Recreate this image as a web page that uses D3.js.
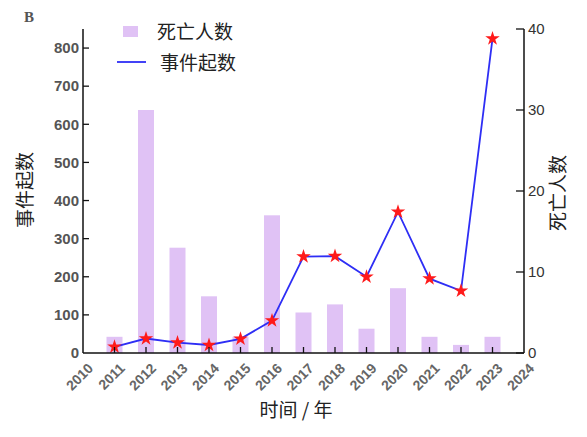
<!DOCTYPE html>
<html>
<head>
<meta charset="utf-8">
<script src="https://cdn.jsdelivr.net/npm/d3@7"></script>
<style>
  html, body { margin: 0; padding: 0; background: #fff; }
  svg { display: block; }
</style>
</head>
<body>
<svg id="chart" width="587" height="437"></svg>
<script>
// Years shown on the x axis and the years that carry data
const tickYears = [2010, 2011, 2012, 2013, 2014, 2015, 2016, 2017, 2018, 2019, 2020, 2021, 2022, 2023, 2024];
const years = [2011, 2012, 2013, 2014, 2015, 2016, 2017, 2018, 2019, 2020, 2021, 2022, 2023];
// Deaths per year (bars, right axis)
const deaths = [2, 30, 13, 7, 2, 17, 5, 6, 3, 8, 2, 1, 2];
// Number of incidents per year (line, left axis)
const events = [16, 38, 27, 21, 37, 85, 253, 254, 200, 370, 195, 163, 825];
// Axis tick values
const leftTicks = [0, 100, 200, 300, 400, 500, 600, 700, 800];
const rightTicks = [0, 10, 20, 30, 40];

const svg = d3.select("#chart");
const x0 = 83, x1 = 524, yBottom = 353, yTop = 29;

const x = d3.scaleLinear().domain([2010, 2024]).range([x0, x1]);
const yLeft = d3.scaleLinear().domain([0, 850]).range([yBottom, yTop]);
const yRight = d3.scaleLinear().domain([0, 40]).range([yBottom, yTop]);

const cjk = "'Noto Sans CJK SC', 'Noto Sans', sans-serif";
const barW = 16;

// Bars: deaths
svg.append("g").selectAll("rect")
  .data(years.map((y, i) => ({ year: y, v: deaths[i] })))
  .join("rect")
  .attr("x", d => x(d.year) - barW / 2)
  .attr("y", d => yRight(d.v))
  .attr("width", barW)
  .attr("height", d => yRight(0) - yRight(d.v))
  .attr("fill", "#e0c2f5");

// Line: incidents
const pts = years.map((y, i) => ({ year: y, v: events[i] }));
svg.append("path")
  .datum(pts)
  .attr("fill", "none")
  .attr("stroke", "#2e2ef5")
  .attr("stroke-width", 1.8)
  .attr("d", d3.line().x(d => x(d.year)).y(d => yLeft(d.v)));

const star = d3.symbol().type(d3.symbolStar).size(65);
svg.append("g").selectAll("path")
  .data(pts)
  .join("path")
  .attr("transform", d => `translate(${x(d.year)},${yLeft(d.v)})`)
  .attr("d", star)
  .attr("fill", "#ff1a1a");

// Bottom axis (ticks pointing inward, only at data years)
const bottom = svg.append("g").attr("transform", `translate(0,${yBottom})`);
bottom.append("line").attr("x1", x0).attr("x2", x1).attr("stroke", "#111").attr("stroke-width", 1.5);
bottom.selectAll("line.tk").data(years).join("line")
  .attr("class", "tk")
  .attr("x1", d => x(d)).attr("x2", d => x(d))
  .attr("y1", 0).attr("y2", -6)
  .attr("stroke", "#111").attr("stroke-width", 1.3);
bottom.selectAll("text").data(tickYears).join("text")
  .attr("transform", d => `translate(${x(d) + 4},${9}) rotate(-45)`)
  .attr("text-anchor", "end")
  .attr("dy", "0.72em")
  .attr("font-family", "'Liberation Sans', Arial, sans-serif")
  .attr("font-weight", "bold")
  .attr("font-size", 14)
  .attr("fill", "#666")
  .text(d => d);

// Left axis
const left = svg.append("g").attr("transform", `translate(${x0},0)`);
left.append("line").attr("y1", yTop).attr("y2", yBottom).attr("stroke", "#111").attr("stroke-width", 1.5);
left.selectAll("line.tk").data(leftTicks.filter(d => d > 0)).join("line")
  .attr("class", "tk")
  .attr("y1", d => yLeft(d)).attr("y2", d => yLeft(d))
  .attr("x1", 0).attr("x2", 6)
  .attr("stroke", "#111").attr("stroke-width", 1.3);
left.selectAll("text").data(leftTicks).join("text")
  .attr("x", -4)
  .attr("y", d => yLeft(d))
  .attr("dy", "0.35em")
  .attr("text-anchor", "end")
  .attr("font-family", "'Liberation Sans', Arial, sans-serif")
  .attr("font-weight", "bold")
  .attr("font-size", 15)
  .attr("fill", "#555")
  .text(d => d);

// Right axis
const right = svg.append("g").attr("transform", `translate(${x1},0)`);
right.append("line").attr("y1", yTop).attr("y2", yBottom).attr("stroke", "#111").attr("stroke-width", 1.5);
right.selectAll("line.tk").data(rightTicks).join("line")
  .attr("class", "tk")
  .attr("y1", d => yRight(d)).attr("y2", d => yRight(d))
  .attr("x1", 0).attr("x2", -8)
  .attr("stroke", "#111").attr("stroke-width", 1.3);
right.selectAll("text").data(rightTicks).join("text")
  .attr("x", 4)
  .attr("y", d => yRight(d))
  .attr("dy", "0.35em")
  .attr("font-family", "'Liberation Sans', Arial, sans-serif")
  .attr("font-size", 15)
  .attr("fill", "#333")
  .text(d => d);

// Axis titles
svg.append("text")
  .attr("transform", "translate(25,190) rotate(-90)")
  .attr("text-anchor", "middle").attr("dy", "0.35em")
  .attr("font-family", cjk).attr("font-size", 19).attr("fill", "#222")
  .text("事件起数");
svg.append("text")
  .attr("transform", "translate(558,193) rotate(-90)")
  .attr("text-anchor", "middle").attr("dy", "0.35em")
  .attr("font-family", cjk).attr("font-size", 19).attr("fill", "#222")
  .text("死亡人数");
svg.append("text")
  .attr("x", 296).attr("y", 410)
  .attr("text-anchor", "middle").attr("dy", "0.35em")
  .attr("font-family", cjk).attr("font-size", 19).attr("fill", "#222")
  .text("时间 / 年");

// Panel letter
svg.append("text")
  .attr("x", 24).attr("y", 22)
  .attr("font-family", "'Liberation Serif', serif")
  .attr("font-weight", "bold").attr("font-size", 15).attr("fill", "#555")
  .text("B");

// Legend
const lg = svg.append("g");
lg.append("rect").attr("x", 123).attr("y", 26).attr("width", 15).attr("height", 11).attr("fill", "#e0c2f5");
lg.append("text").attr("x", 157).attr("y", 32).attr("dy", "0.35em")
  .attr("font-family", cjk).attr("font-size", 19).attr("fill", "#222").text("死亡人数");
lg.append("line").attr("x1", 117).attr("x2", 146).attr("y1", 62).attr("y2", 62)
  .attr("stroke", "#2e2ef5").attr("stroke-width", 1.8);
lg.append("text").attr("x", 160).attr("y", 63).attr("dy", "0.35em")
  .attr("font-family", cjk).attr("font-size", 19).attr("fill", "#222").text("事件起数");
</script>
</body>
</html>
